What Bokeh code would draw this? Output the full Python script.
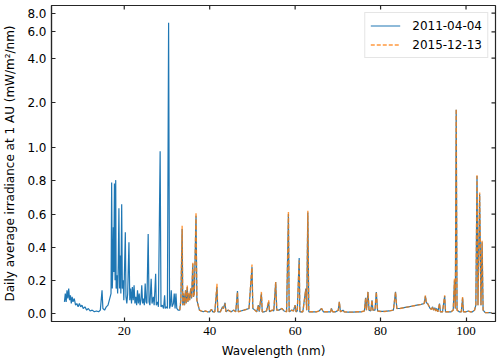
import numpy as np
from bokeh.plotting import figure
from bokeh.models import FixedTicker, Range1d
from bokeh.embed import file_html
from bokeh.resources import INLINE

# ---------------- data ----------------
x_ticks = [20, 40, 60, 80, 100]
y_ticks = [0.0, 0.2, 0.4, 0.6, 0.8, 1.0, 2.0, 4.0, 6.0, 8.0]
y_tick_labels = ["0.0", "0.2", "0.4", "0.6", "0.8", "1.0", "2.0", "4.0", "6.0", "8.0"]

series_names = ["2011-04-04", "2015-12-13"]

# 2011-04-04, short wavelength part (only this date has it)
wave_2011_short = [6.0, 6.2, 6.4, 6.6, 6.8, 7.0, 7.2, 7.4, 7.6, 7.8, 8.0, 8.3, 8.6, 8.9, 9.2,
                   9.5, 9.8, 10.1, 10.4, 10.8, 11.2, 11.6, 12.0, 12.5, 13.0, 13.5, 14.0, 14.4,
                   14.8, 15.0, 15.4, 15.8, 16.2, 16.6, 16.9, 17.05, 17.2, 17.35, 17.45, 17.55,
                   17.7, 17.85, 18.0, 18.1, 18.3, 18.45, 18.6, 18.75, 18.9, 19.05, 19.2, 19.4,
                   19.55, 19.75, 19.9, 20.25, 20.4, 20.6, 20.8, 21.1, 21.3, 21.5, 21.7, 21.9,
                   22.1, 22.3, 22.5, 22.7, 22.9, 23.1, 23.3, 23.5, 23.7, 23.9, 24.1, 24.3, 24.5,
                   24.7, 24.9, 25.1, 25.3, 25.6, 25.8, 26.0, 26.3, 26.5, 26.8, 27.0, 27.35, 27.5,
                   27.8, 28.0, 28.4, 28.6, 28.9, 29.2, 29.45, 29.6, 29.9, 30.1, 30.38, 30.6, 30.8,
                   31.0, 31.2, 31.5, 31.7, 31.9, 32.1, 32.3, 32.6]
irr_2011_short = [0.07, 0.12, 0.07, 0.14, 0.09, 0.15, 0.08, 0.11, 0.06, 0.10, 0.07, 0.09, 0.05,
                  0.06, 0.04, 0.06, 0.04, 0.05, 0.03, 0.04, 0.02, 0.03, 0.015, 0.02, 0.01, 0.015,
                  0.01, 0.02, 0.14, 0.03, 0.02, 0.04, 0.05, 0.09, 0.12, 0.79, 0.15, 0.30, 0.52,
                  0.25, 0.785, 0.20, 0.805, 0.15, 0.23, 0.12, 0.30, 0.635, 0.15, 0.35, 0.12, 0.66,
                  0.15, 0.20, 0.08, 0.49, 0.10, 0.06, 0.12, 0.43, 0.08, 0.15, 0.06, 0.16, 0.08,
                  0.17, 0.06, 0.10, 0.05, 0.14, 0.06, 0.12, 0.05, 0.08, 0.17, 0.06, 0.09, 0.05,
                  0.18, 0.07, 0.06, 0.48, 0.07, 0.05, 0.21, 0.06, 0.10, 0.05, 0.24, 0.05, 0.07,
                  0.04, 0.98, 0.04, 0.05, 0.03, 0.11, 0.03, 0.04, 0.03, 6.9, 0.03, 0.05, 0.14,
                  0.04, 0.06, 0.12, 0.03, 0.12, 0.03, 0.02]

# long wavelength part (both dates)
wave_long = [33.0, 33.25, 33.55, 33.7, 33.9, 34.1, 34.35, 34.5, 34.75, 34.9, 35.1, 35.3, 35.55,
             35.75, 36.05, 36.2, 36.4, 36.8, 37.0, 37.3, 37.6, 38.0, 38.5, 39.0, 39.5, 40.0, 40.4,
             40.7, 41.2, 41.7, 41.9, 42.5, 43.0, 43.2, 43.6, 43.8, 44.3, 45.0, 45.6, 46.1, 46.5,
             46.7, 47.3, 48.0, 48.6, 49.2, 49.9, 50.1, 50.6, 51.0, 51.4, 51.6, 52.1, 52.3, 52.8,
             53.3, 53.8, 54.0, 54.6, 55.0, 55.45, 55.7, 56.2, 56.9, 57.4, 58.0, 58.43, 58.6, 59.2,
             59.6, 60.0, 60.2, 60.5, 60.95, 61.1, 61.8, 62.5, 62.7, 62.97, 63.2, 63.8, 64.5, 65.0,
             65.6, 66.2, 66.6, 67.5, 68.3, 68.5, 68.8, 69.5, 70.1, 70.35, 70.6, 71.2, 71.5, 72.5,
             73.5, 74.5, 75.5, 76.2, 76.5, 76.7, 77.05, 77.3, 77.7, 78.0, 78.2, 78.7, 79.0, 79.3,
             80.0, 81.0, 82.0, 83.0, 83.5, 83.8, 84.5, 85.5, 86.5, 87.5, 88.5, 89.5, 90.2, 90.5,
             90.7, 91.0, 91.3, 91.6, 91.9, 92.2, 92.4, 92.7, 92.9, 93.1, 93.4, 93.8, 94.0, 94.5,
             95.0, 95.2, 95.8, 96.5, 97.0, 97.3, 97.5, 97.7, 97.9, 98.4, 98.9, 99.2, 99.4, 100.0,
             100.5, 101.0, 101.5, 102.0, 102.3, 102.57, 102.8, 103.19, 103.5, 103.76, 104.0,
             104.5, 105.0, 106.0]
irr_2011_long = [0.02, 0.08, 0.51, 0.05, 0.12, 0.05, 0.14, 0.06, 0.16, 0.07, 0.12, 0.08, 0.15,
                 0.09, 0.30, 0.10, 0.12, 0.59, 0.08, 0.05, 0.02, 0.015, 0.01, 0.015, 0.01, 0.01,
                 0.025, 0.01, 0.01, 0.16, 0.01, 0.01, 0.04, 0.03, 0.065, 0.01, 0.02, 0.01, 0.02,
                 0.01, 0.135, 0.01, 0.015, 0.02, 0.025, 0.03, 0.28, 0.03, 0.02, 0.01, 0.05, 0.01,
                 0.12, 0.01, 0.01, 0.015, 0.07, 0.01, 0.02, 0.015, 0.19, 0.02, 0.02, 0.03, 0.015,
                 0.01, 0.60, 0.01, 0.02, 0.015, 0.05, 0.01, 0.015, 0.335, 0.01, 0.01, 0.15, 0.02,
                 0.61, 0.01, 0.01, 0.01, 0.01, 0.015, 0.03, 0.01, 0.01, 0.01, 0.03, 0.01, 0.01,
                 0.02, 0.07, 0.01, 0.02, 0.01, 0.008, 0.008, 0.01, 0.01, 0.015, 0.095, 0.02, 0.13,
                 0.02, 0.015, 0.08, 0.02, 0.02, 0.13, 0.015, 0.012, 0.012, 0.015, 0.02, 0.13,
                 0.03, 0.03, 0.035, 0.04, 0.045, 0.05, 0.055, 0.06, 0.105, 0.065, 0.06, 0.045,
                 0.03, 0.025, 0.04, 0.02, 0.035, 0.015, 0.03, 0.01, 0.06, 0.01, 0.01, 0.105, 0.01,
                 0.01, 0.01, 0.02, 0.20, 0.03, 1.8, 0.02, 0.01, 0.01, 0.095, 0.01, 0.01, 0.015,
                 0.01, 0.01, 0.02, 0.05, 0.83, 0.05, 0.72, 0.05, 0.43, 0.02, 0.005, 0.005, 0.005]
irr_2015_long = [0.02, 0.08, 0.53, 0.05, 0.12, 0.05, 0.14, 0.06, 0.17, 0.07, 0.12, 0.08, 0.15,
                 0.09, 0.31, 0.10, 0.12, 0.61, 0.08, 0.05, 0.02, 0.015, 0.01, 0.015, 0.01, 0.01,
                 0.025, 0.01, 0.01, 0.18, 0.01, 0.01, 0.04, 0.03, 0.06, 0.01, 0.02, 0.01, 0.02,
                 0.01, 0.13, 0.01, 0.015, 0.02, 0.025, 0.03, 0.295, 0.03, 0.02, 0.01, 0.05, 0.01,
                 0.13, 0.01, 0.01, 0.015, 0.08, 0.01, 0.02, 0.015, 0.19, 0.02, 0.02, 0.03, 0.015,
                 0.01, 0.615, 0.01, 0.02, 0.015, 0.05, 0.01, 0.015, 0.32, 0.01, 0.01, 0.145, 0.02,
                 0.62, 0.01, 0.01, 0.01, 0.01, 0.015, 0.03, 0.01, 0.01, 0.01, 0.03, 0.01, 0.01,
                 0.02, 0.07, 0.01, 0.02, 0.01, 0.008, 0.008, 0.01, 0.01, 0.015, 0.09, 0.02, 0.13,
                 0.02, 0.015, 0.08, 0.02, 0.02, 0.13, 0.015, 0.012, 0.012, 0.015, 0.02, 0.13,
                 0.03, 0.03, 0.035, 0.04, 0.045, 0.05, 0.055, 0.06, 0.11, 0.065, 0.06, 0.045,
                 0.03, 0.025, 0.04, 0.02, 0.035, 0.015, 0.03, 0.01, 0.06, 0.01, 0.01, 0.11, 0.01,
                 0.01, 0.01, 0.02, 0.21, 0.03, 1.82, 0.02, 0.01, 0.01, 0.10, 0.01, 0.01, 0.015,
                 0.01, 0.01, 0.02, 0.05, 0.84, 0.05, 0.73, 0.05, 0.44, 0.02, 0.005, 0.005, 0.005]

# ---------------- symlog axis (linthresh = 1, base 10) ----------------
LINSCALE = 1.0 / (1.0 - 1.0 / 10.0)


def symlog(v):
    v = np.asarray(v, dtype=float)
    out = v * LINSCALE
    big = np.abs(v) > 1.0
    out[big] = np.sign(v[big]) * (LINSCALE + np.log10(np.abs(v[big])))
    return out


wave_2011 = wave_2011_short + wave_long
irr_2011 = irr_2011_short + irr_2011_long

y_tick_pos = [float(t) for t in symlog(y_ticks)]

X0, X1 = 2.97, 106.9
Y0, Y1 = -0.054, 2.066

TEXT = "#262626"
p = figure(width=500, height=364, output_backend="svg", toolbar_location=None,
           x_range=Range1d(X0, X1), y_range=Range1d(Y0, Y1),
           min_border_left=49, min_border_right=5, min_border_top=5, min_border_bottom=43)
p.background_fill_color = "white"
p.border_fill_color = "white"
p.outline_line_color = TEXT
p.outline_line_width = 1.2
p.xgrid.visible = False
p.ygrid.visible = False

r1 = p.line(wave_2011, symlog(irr_2011), line_color="#1f77b4", line_width=1.2, line_alpha=1.0,
            legend_label=series_names[0])
r2 = p.line(wave_long, symlog(irr_2015_long), line_color="#ff7f0e", line_width=1.4, line_alpha=0.8,
            line_dash="4 2", legend_label=series_names[1])

# inward ticks on the top and right edges of the frame
p.scatter(x_ticks, [Y1] * len(x_ticks), marker="dash", angle=np.pi / 2, size=8,
          line_color=TEXT, line_width=1.2)
p.scatter([X1] * len(y_tick_pos), y_tick_pos, marker="dash", size=8,
          line_color=TEXT, line_width=1.2)

# bottom axis
xa = p.xaxis[0]
xa.ticker = FixedTicker(ticks=x_ticks)
xa.axis_label = "Wavelength (nm)"
# left axis
ya = p.yaxis[0]
ya.ticker = FixedTicker(ticks=y_tick_pos)
ya.major_label_overrides = {pos: lab for pos, lab in zip(y_tick_pos, y_tick_labels)}
ya.axis_label = "Daily average irradiance at 1 AU (mW/m\u00b2/nm)"

for ax in (xa, ya):
    ax.major_tick_in = 4
    ax.major_tick_out = 0
    ax.minor_tick_in = 0
    ax.minor_tick_out = 0
    ax.axis_line_color = TEXT
    ax.axis_line_width = 1.2
    ax.major_tick_line_color = TEXT
    ax.major_tick_line_width = 1.2
    ax.axis_label_text_font = "DejaVu Sans"
    ax.axis_label_text_font_style = "normal"
    ax.axis_label_text_font_size = "12px"
    ax.axis_label_text_color = "black"
    ax.major_label_text_color = "black"
    ax.major_label_text_font_size = "12px"

xa.major_label_text_font = "Liberation Serif"
xa.major_label_text_font_size = "13px"
xa.major_label_standoff = 5
xa.axis_label_standoff = 6
ya.major_label_text_font = "DejaVu Sans"
ya.major_label_standoff = 5
ya.axis_label_standoff = 7

lg = p.legend[0]
lg.location = "top_right"
lg.margin = 7
lg.padding = 5
lg.spacing = 4
lg.glyph_width = 30
lg.glyph_height = 15
lg.label_height = 15
lg.label_standoff = 12
lg.label_text_font = "DejaVu Sans"
lg.label_text_font_size = "12px"
lg.label_text_color = "black"
lg.border_line_color = "#cccccc"
lg.border_line_width = 1
lg.background_fill_alpha = 0.8

open("out.html", "w").write(file_html(p, INLINE))
